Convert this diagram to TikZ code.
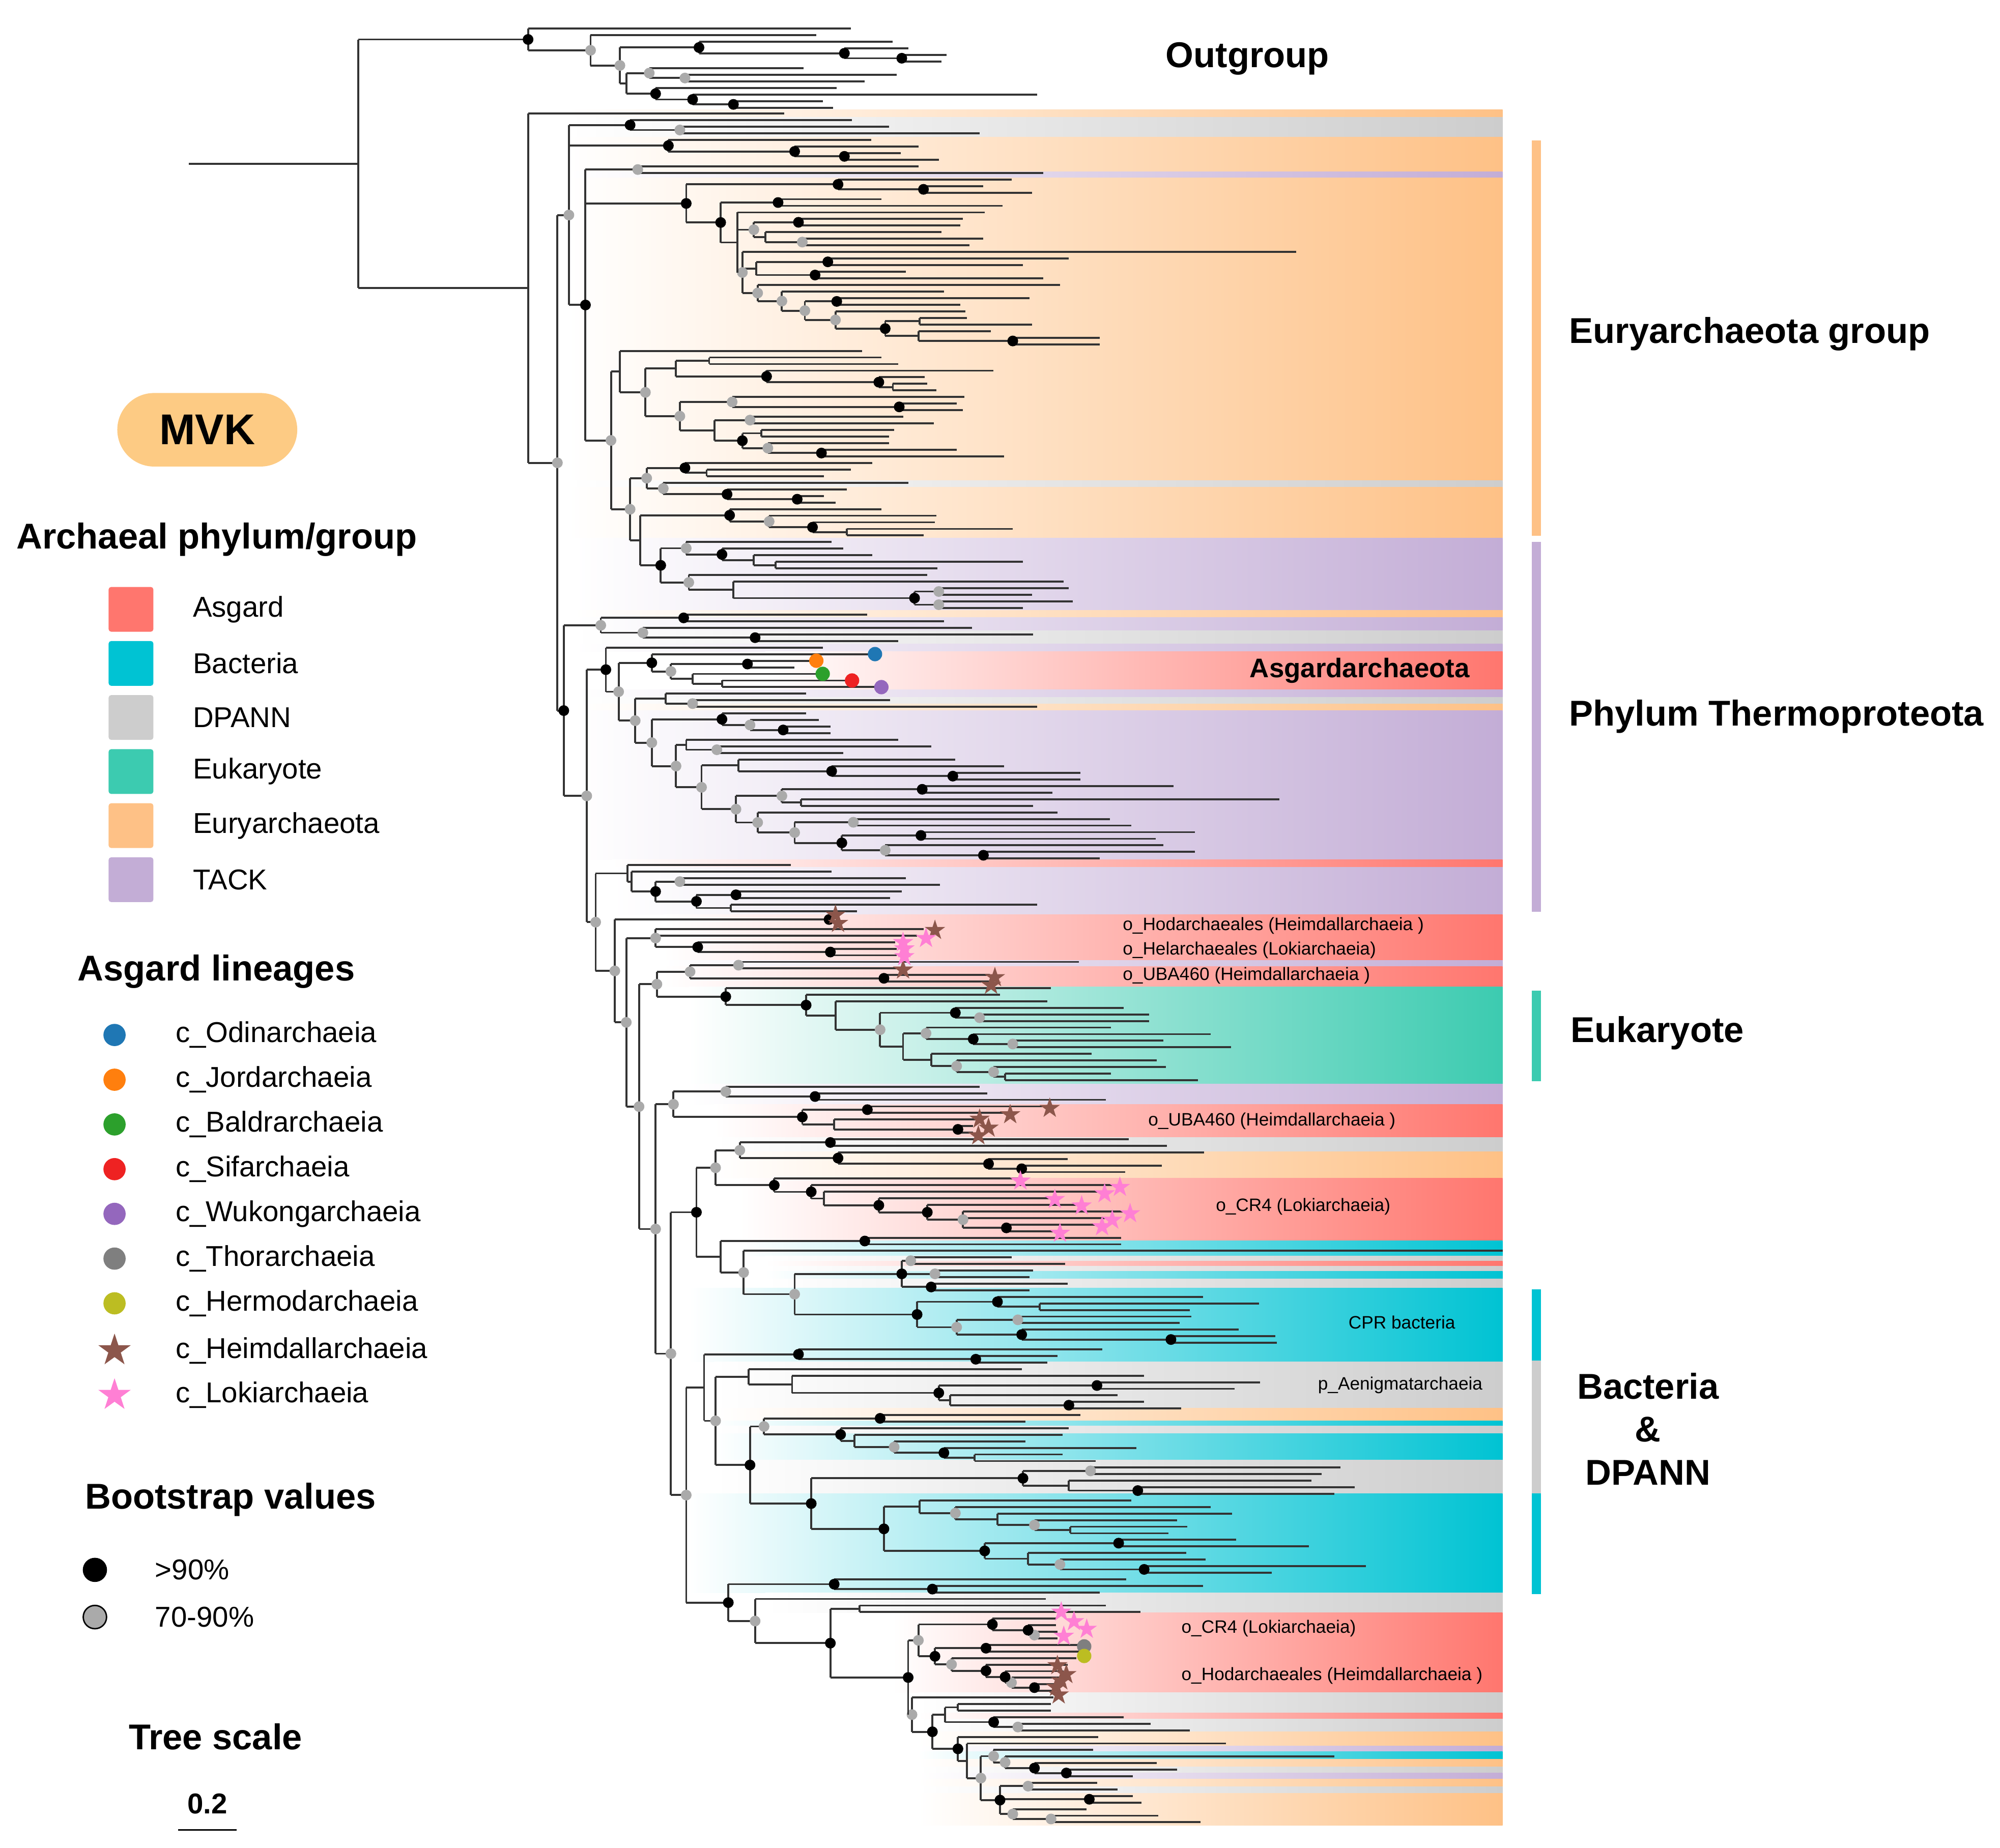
\documentclass[tikz,border=0pt]{standalone}
\usepackage{fontspec}
\setmainfont{Liberation Sans}
\usetikzlibrary{shapes.geometric,shapes.misc}

\definecolor{asg}{HTML}{FF766E}
\definecolor{bac}{HTML}{00C3D3}
\definecolor{dpa}{HTML}{CDCDCD}
\definecolor{euk}{HTML}{3CCBB0}
\definecolor{eur}{HTML}{FEC186}
\definecolor{tac}{HTML}{C3ADD6}
\definecolor{mvk}{HTML}{FDCB84}
\definecolor{odin}{HTML}{1F77B4}
\definecolor{jord}{HTML}{FF7F0E}
\definecolor{bald}{HTML}{2CA02C}
\definecolor{sif}{HTML}{EE2222}
\definecolor{wuk}{HTML}{9467BD}
\definecolor{thor}{HTML}{7F7F7F}
\definecolor{herm}{HTML}{BCBD22}
\definecolor{heim}{HTML}{8C564B}
\definecolor{loki}{HTML}{FF7FD4}
\definecolor{bsgray}{HTML}{AAAAAA}

% tree macros: \Lf{tip x} leaf, \Op{x}{dot} opens a clade, \Cl closes it
\newcount\tdepth
\def\tlsep{5.17}
\def\tycur{22.4}
\let\tcmin\relax
\let\tcmax\relax
\newcommand\upd[1]{\ifx\tcmin\relax\edef\tcmin{#1}\fi\edef\tcmax{#1}}
\newcommand\Yset[2]{\gdef\tycur{#1}\gdef\tlsep{#2}}
\newcommand\Lf[1]{%
  \draw[branch] (\tpx,\tycur) -- (#1,\tycur);
  \upd{\tycur}%
  \pgfmathsetmacro\tynext{\tycur+\tlsep}%
  \global\let\tycur\tynext}
\newcommand\Op[2]{%
  \begingroup
  \global\advance\tdepth by 1
  \let\tppx\tpx\def\tpx{#1}%
  \tikzset{tcdot/.style={bs#2}}%
  \let\tcmin\relax\let\tcmax\relax}
\newcommand\Clreal{%
  \pgfmathsetmacro\tcmid{(\tcmin+\tcmax)/2}%
  \draw[branch] (\tpx,\tcmin) -- (\tpx,\tcmax) (\tppx,\tcmid) -- (\tpx,\tcmid);
  \path[tcdot] (\tpx,\tcmid) circle[radius=4.2];
  \global\let\tcret\tcmid
  \global\advance\tdepth by -1
  \endgroup
  \upd{\tcret}}
\newcommand\Cl{\ifnum\tdepth>0 \expandafter\Clreal\fi}
\newcommand\Ch[4]{\Op{#1}{#2}\Lf{#3}\Lf{#4}\Cl}

\begin{document}
\begin{tikzpicture}[x=0.025cm, y=-0.025cm,
    branch/.style={line width=1.1pt, draw=black!80},
    bsb/.style={fill=black}, bsg/.style={fill=bsgray}, bsn/.style={},
    headtext/.style={font=\fontsize{20}{24}\selectfont\bfseries, inner sep=0pt},
    legtext/.style={font=\fontsize{16}{19}\selectfont, inner sep=0pt, anchor=west},
    cladelab/.style={font=\fontsize{10}{12}\selectfont, inner sep=0pt, anchor=west},
    sq/.style={rounded corners=1.5pt, minimum size=25pt, inner sep=0pt},
    ldot/.style={circle, inner sep=0pt, minimum size=12.4pt},
    lstar/.style={star, star points=5, star point ratio=2.6, inner sep=0pt, minimum size=19pt, fill=#1},
    tstar/.style={star, star points=5, star point ratio=2.6, inner sep=0pt, minimum size=12pt, fill=#1},
    cdot/.style={circle, inner sep=0pt, minimum size=8pt, fill=#1}
]
\useasboundingbox (0,0) rectangle (1568,1449);

% Coloured bands
\foreach \xa/\ya/\yb/\c in {445/86/92/eur, 445/92/107.5/dpa, 445/107.5/134.5/eur, 445/134.5/139.5/tac,
    445/139.5/377/eur, 445/377/382/dpa, 445/382/422/eur, 450/422/478.5/tac, 450/478.5/484/eur,
    450/484/494.7/tac, 450/494.7/505/dpa, 450/505/511/tac, 600/511/541/asg, 450/541/546.7/tac,
    450/546.7/552/dpa, 450/552/557/eur, 450/557/674/tac, 480/674/680/asg, 480/680/717/tac,
    520/717/753/asg, 520/753/758/tac, 520/758/774/asg, 540/774/850/euk, 540/850/866/tac,
    560/866/892/asg, 560/892/903/dpa, 560/903/924/eur, 580/924/973/asg, 580/973/985/bac,
    600/985/989/dpa, 600/989/993/asg, 600/993/997/dpa, 600/997/1003/bac, 600/1003/1010/dpa,
    540/1010/1068/bac, 560/1068/1104/dpa, 560/1104/1114/eur, 560/1114/1118/bac, 560/1118/1124/dpa,
    560/1124/1145/bac, 560/1145/1171/dpa, 540/1171/1249/bac, 600/1249/1264.7/dpa, 700/1264.7/1327/asg,
    720/1327/1343/dpa, 720/1343/1348/asg, 720/1348/1358/dpa, 720/1358/1369/eur, 720/1369/1373.5/tac,
    720/1373.5/1379.5/bac, 720/1379.5/1385.6/eur, 720/1385.6/1390.3/dpa, 720/1390.3/1395/tac,
    720/1395/1401/eur, 720/1401/1406/dpa, 720/1406/1431.5/eur}
  \shade[left color=white, right color=\c] (\xa,\ya) rectangle (1178,\yb);

% Group bars
\fill[eur] (1201,110) rectangle (1208,420);
\fill[tac] (1201,425) rectangle (1208,715);
\fill[euk] (1201,777) rectangle (1208,848);
\fill[bac] (1201,1011) rectangle (1208,1067);
\fill[dpa] (1201,1067) rectangle (1208,1171);
\fill[bac] (1201,1171) rectangle (1208,1250);

% Tree
\def\tpx{148}
\Op{281}{n}
% Outgroup
\Op{414}{b}\Lf{667}
 \Op{463}{g}\Lf{640}
  \Op{486}{g}
   \Op{548}{b}\Lf{700}\Op{662}{b}\Lf{712}\Ch{707}{b}{742}{738}\Cl\Cl
   \Op{491}{n}
    \Op{509}{g}\Lf{630}\Ch{537}{g}{703}{678}\Cl
    \Op{514}{b}\Lf{656}\Op{543}{b}\Lf{813}\Ch{575}{b}{645}{653}\Cl\Cl
   \Cl
  \Cl
 \Cl
\Cl
\Yset{89}{5.17}
% Ingroup
\Op{414}{n}\Lf{615}
 \Op{437}{g}
  \Op{446}{g}
   \Op{494}{b}\Lf{668}\Ch{533}{g}{697}{768}\Cl
   \Op{524}{b}\Lf{683}\Op{623}{b}\Lf{720}\Ch{662}{b}{706}{736}\Cl\Cl
   \Op{459}{b}
    \Ch{500}{g}{720}{818}
    \Op{538}{b}
     \Op{657}{b}\Lf{793}\Ch{724}{b}{771}{809}\Cl
     \Op{565}{b}
      \Ch{610}{b}{691}{786}
      \Op{578}{n}\Lf{772}
       \Op{591}{g}\Ch{626}{b}{755}{753}\Op{600}{n}\Lf{738}\Ch{629}{g}{771}{760}\Cl\Cl
       \Op{582}{g}\Lf{1016}
        \Op{593}{n}\Ch{649}{b}{838}{802}\Ch{639}{b}{710}{818}\Cl
        \Op{594}{g}\Lf{831}\Op{613}{g}\Lf{740}\Op{631}{g}\Ch{656}{b}{807}{753}\Op{655}{g}\Lf{757}\Op{694}{b}\Ch{721}{n}{758}{809}\Op{720}{n}\Lf{777}\Ch{794}{b}{862}{862}\Cl\Cl\Cl\Cl\Cl\Cl
       \Cl
      \Cl
     \Cl
    \Cl
    \Op{479}{g}
     \Op{486}{n}\Lf{676}
      \Op{506}{g}
       \Op{530}{n}\Ch{556}{n}{691}{704}\Op{601}{b}\Lf{779}\Op{689}{b}\Lf{725}\Ch{700}{n}{727}{734}\Cl\Cl\Cl
       \Op{533}{g}\Op{574}{g}\Lf{756}\Ch{705}{b}{750}{755}\Cl\Op{560}{n}\Ch{588}{g}{708}{732}\Op{582}{b}\Ch{597}{n}{701}{697}\Op{602}{g}\Lf{697}\Ch{644}{b}{750}{787}\Cl\Cl\Cl\Cl
      \Cl
     \Cl
     \Op{494}{g}
      \Op{507}{g}\Op{537}{b}\Lf{684}\Ch{554}{n}{667}{646}\Cl\Op{520}{g}\Lf{712}\Op{570}{b}\Lf{664}\Ch{625}{b}{646}{655}\Cl\Cl\Cl
      \Op{502}{n}
       \Op{572}{b}\Lf{691}\Op{603}{g}\Lf{734}\Op{637}{b}\Lf{733}\Ch{664}{n}{794}{724}\Cl\Cl\Cl
       % TACK
       \Op{518}{b}
        \Op{538}{g}\Lf{652}\Op{566}{b}\Lf{661}\Op{591}{n}\Lf{684}\Ch{608}{n}{802}{735}\Cl\Cl\Cl
        \Op{540}{g}\Lf{727}\Op{575}{n}\Lf{834}\Op{717}{b}\Ch{736}{g}{838}{809}\Ch{736}{g}{841}{802}\Cl\Cl\Cl
       \Cl
      \Cl
     \Cl
    \Cl
   \Cl
  \Cl
  % N3
  \Op{442}{b}
   \Op{471}{g}\Ch{536}{b}{680}{740}\Op{504}{g}\Lf{762}\Ch{592}{b}{810}{704}\Cl\Cl
   \Op{460}{g}
    \Op{475}{b}\Lf{645}
     \Op{485}{g}
      % Asgardarchaeota
      \Op{511}{b}\Lf{686}\Op{526}{g}\Ch{586}{b}{640}{623}\Op{543}{n}\Lf{645}\Ch{566}{n}{668}{691}\Cl\Cl\Cl
      \Op{498}{g}
       \Op{522}{n}\Lf{632}\Ch{543}{g}{698}{813}\Cl
       \Op{511}{g}
        \Op{566}{b}\Lf{632}\Op{588}{g}\Lf{642}\Ch{614}{b}{651}{651}\Cl\Cl
        \Op{530}{g}
         \Op{538}{n}\Lf{704}\Ch{562}{g}{730}{661}\Cl
         \Op{550}{g}
          \Op{579}{n}\Lf{749}\Op{652}{b}\Lf{787}\Ch{747}{b}{847}{847}\Cl\Cl
          \Op{577}{g}
           \Op{613}{g}\Ch{723}{b}{920}{825}\Ch{628}{n}{1003}{810}\Cl
           \Op{594}{g}\Lf{829}\Op{623}{g}\Ch{669}{g}{870}{887}\Op{660}{b}\Ch{722}{b}{937}{906}\Op{694}{g}\Lf{912}\Ch{771}{b}{937}{862}\Cl\Cl\Cl\Cl
          \Cl
         \Cl
        \Cl
       \Cl
      \Cl
     \Cl
    \Cl
    \Op{467}{g}
     \Op{492}{n}\Lf{620}\Op{495}{n}\Lf{652}\Op{514}{b}\Ch{533}{g}{710}{737}\Op{546}{b}\Ch{577}{b}{707}{698}\Ch{573}{n}{813}{672}\Cl\Cl\Cl\Cl
     \Op{482}{g}\Yset{721}{5.17}\Lf{650}
      \Op{491}{g}\Yset{728.5}{5.15}
       \Op{514}{g}\Lf{724}\Lf{719}\Op{547}{b}\Lf{702}\Ch{651}{b}{703}{703}\Cl\Cl
       \Op{501}{g}
        \Op{515}{g}
         \Op{541}{g}\Ch{579}{g}{846}{707}\Ch{693}{b}{776}{776}\Cl
         % Eukaryote
         \Op{569}{b}\Lf{824}\Op{632}{b}\Lf{784}\Op{655}{n}\Lf{821}\Op{690}{g}
          \Op{749}{b}\Lf{881}\Ch{768}{g}{901}{901}\Cl
          \Op{708}{n}\Op{726}{g}\Lf{871}\Op{763}{b}\Lf{949}\Ch{794}{g}{912}{965}\Cl\Cl\Op{730}{n}\Lf{856}\Op{750}{g}\Lf{907}\Op{779}{g}\Lf{914}\Ch{788}{n}{871}{939}\Cl\Cl\Cl\Cl
         \Cl\Cl\Cl\Cl
        \Cl
        \Op{514}{g}
         \Op{528}{g}\Op{569}{g}\Lf{768}\Ch{639}{b}{774}{867}\Cl\Op{629}{b}\Ch{680}{b}{823}{792}\Op{654}{n}\Lf{769}\Ch{751}{b}{763}{763}\Cl\Cl\Cl
         \Op{526}{g}
          \Op{546}{b}
           \Op{561}{g}
            \Op{580}{g}\Ch{651}{b}{885}{915}\Op{657}{b}\Lf{944}\Op{775}{b}\Lf{837}\Ch{801}{b}{911}{882}\Cl\Cl\Cl
            % CR4
            \Op{607}{b}\Lf{800}\Op{636}{b}\Lf{878}\Op{646}{n}\Lf{865}\Op{689}{b}\Lf{827}\Op{727}{b}\Lf{848}\Op{755}{g}\Lf{885}\Lf{872}\Ch{789}{b}{864}{831}\Cl\Cl\Cl\Cl\Cl\Cl
           \Cl
           \Op{565}{n}
            \Ch{678}{b}{879}{879}
            \Op{583}{g}\Lf{1178}
             \Op{623}{g}
              \Op{707}{b}\Ch{714}{g}{793}{835}\Ch{733}{g}{810}{807}\Ch{730}{b}{837}{807}\Cl
              % CPR bacteria
              \Op{719}{b}\Op{782}{b}\Lf{943}\Ch{815}{n}{987}{933}\Cl\Op{750}{g}\Ch{798}{g}{934}{925}\Op{801}{b}\Lf{971}\Ch{918}{b}{1000}{1001}\Cl\Cl\Cl
             \Cl
            \Cl
           \Cl
          \Cl
          \Op{538}{g}
           \Op{552}{n}
            \Op{626}{b}\Lf{864}\Ch{765}{b}{829}{821}\Cl
            \Op{561}{g}
             \Op{587}{n}\Lf{801}\Op{621}{n}\Lf{897}\Op{736}{b}\Ch{860}{b}{988}{968}\Op{745}{n}\Lf{876}\Ch{838}{b}{897}{926}\Cl\Cl\Cl\Cl
             \Op{588}{b}
              \Op{599}{g}\Ch{690}{b}{847}{804}\Op{659}{b}\Lf{838}\Op{670}{n}\Lf{833}\Op{701}{g}\Lf{804}\Op{740}{b}\Lf{891}\Ch{764}{n}{833}{859}\Cl\Cl\Cl\Cl\Cl
              \Op{636}{b}
               \Op{802}{b}\Ch{855}{g}{1051}{1036}\Op{838}{n}\Lf{1028}\Ch{892}{b}{1062}{1046}\Cl\Cl
               \Op{693}{b}
                \Op{721}{n}\Lf{887}\Op{749}{g}\Lf{949}\Op{782}{n}\Lf{966}\Op{811}{g}\Lf{923}\Ch{839}{n}{931}{916}\Cl\Cl\Cl\Cl
                \Op{772}{b}\Ch{877}{b}{969}{1026}\Op{806}{n}\Lf{930}\Op{831}{g}\Lf{945}\Ch{897}{b}{1071}{997}\Cl\Cl\Cl
               \Cl
              \Cl
             \Cl
            \Cl
           \Cl
           \Op{571}{b}
            \Op{654}{b}\Lf{883}\Ch{731}{b}{943}{862}\Cl
            \Op{592}{g}\Lf{820}
             \Op{651}{b}
              \Ch{674}{n}{867}{894}
              \Op{712}{b}
               \Op{720}{g}\Op{778}{b}\Lf{828}\Op{806}{b}\Lf{828}\Ch{811}{g}{829}{829}\Cl\Cl\Op{733}{b}\Ch{773}{b}{849}{849}\Op{746}{g}\Lf{844}\Op{773}{b}\Lf{837}\Op{788}{b}\Lf{834}\Op{793}{g}\Lf{831}\Ch{811}{b}{832}{826}\Cl\Cl\Cl\Cl\Cl\Cl
               \Op{715}{g}\Lf{826}
                \Op{731}{b}
                 \Op{741}{n}\Ch{751}{n}{824}{824}\Op{779}{b}\Lf{881}\Ch{798}{g}{902}{933}\Cl\Cl
                 \Op{751}{b}\Lf{861}\Op{758}{n}\Lf{961}\Op{769}{g}
                  \Op{779}{g}\Lf{857}\Op{788}{g}\Lf{1046}\Op{811}{b}\Lf{907}\Ch{836}{b}{923}{888}\Cl\Cl\Cl
                  \Op{784}{b}\Ch{806}{g}{860}{876}\Ch{854}{b}{888}{895}\Op{794}{g}\Lf{852}\Ch{824}{g}{908}{941}\Cl\Cl
                 \Cl\Cl\Cl
                \Cl
               \Cl
              \Cl
             \Cl
            \Cl
           \Cl
          \Cl
         \Cl
        \Cl
       \Cl
      \Cl
     \Cl
    \Cl
   \Cl
  \Cl
 \Cl
\Cl
\Cl

% Lineage markers
\path[bsb] (650,721) circle[radius=4.2];
\foreach \c/\x/\y [count=\i] in {odin/686/512.9, jord/640/518.1, bald/645/528.4, sif/668/533.6,
    wuk/691/538.8, thor/850/1291, herm/850/1298.5}
  \node[cdot=\c] (cm\i) at (\x,\y) {};
\foreach \x/\y [count=\i] in {655/717.5, 657/724, 733/729.5, 708/760.5, 780/766.5, 777/772.5,
    823/869, 792/874, 768/877.5, 775/884.5, 767/890.5, 829/1306, 836/1313, 832/1318, 828/1323, 830/1329}
  \node[tstar=heim] (hs\i) at (\x,\y) {};
\foreach \x/\y [count=\i] in {726/735.8, 708/739, 709/744, 709/750, 800/926, 878/931, 866/936,
    827/940.5, 848/945.5, 886/951.6, 872/956.7, 864/961.8, 831/967, 832/1264, 842/1271.5, 852/1277.5, 834/1283}
  \node[tstar=loki] (ls\i) at (\x,\y) {};

% Group labels
\node[headtext] (outg) at (978,46) {Outgroup};
\node[headtext, anchor=west] (eury) at (1230,262) {Euryarchaeota group};
\node[headtext, anchor=west] (thermo) at (1230,562) {Phylum Thermoproteota};
\node[headtext, anchor=west] (eukl) at (1231,810) {Eukaryote};
\node[headtext, align=center] (bacd) at (1292,1120.5) {Bacteria\\\&\\DPANN};
\node[font=\fontsize{15}{18}\selectfont\bfseries, inner sep=0pt] (asgl) at (1066,526) {Asgardarchaeota};

% Clade labels
\node[cladelab] (hod1) at (880,726) {o\_Hodarchaeales (Heimdallarchaeia )};
\node[cladelab] (hel) at (880,745) {o\_Helarchaeales (Lokiarchaeia)};
\node[cladelab] (uba1) at (880,765) {o\_UBA460 (Heimdallarchaeia )};
\node[cladelab] (uba2) at (900,879) {o\_UBA460 (Heimdallarchaeia )};
\node[cladelab] (cr1) at (953,946) {o\_CR4 (Lokiarchaeia)};
\node[cladelab] (cpr) at (1057,1037) {CPR bacteria};
\node[cladelab] (aen) at (1033,1086) {p\_Aenigmatarchaeia};
\node[cladelab] (cr2) at (926,1277) {o\_CR4 (Lokiarchaeia)};
\node[cladelab] (hod2) at (926,1314) {o\_Hodarchaeales (Heimdallarchaeia )};

% Legend
\node[rounded rectangle, fill=mvk, minimum width=107pt, minimum height=41pt,
    font=\fontsize{24}{28}\selectfont\bfseries] (mvkb) at (162.5,337) {MVK};
\node[headtext, anchor=west] (phyh) at (12.6,423) {Archaeal phylum/group};
\foreach \c/\t [count=\i] in {asg/Asgard, bac/Bacteria, dpa/DPANN, euk/Eukaryote, eur/Euryarchaeota, tac/TACK} {
  \node[sq, fill=\c] (sq\i) at (102.7,435.4+42.4*\i) {};
  \node[legtext] (sl\i) at (151,435.4+42.4*\i) {\t};
}
\node[headtext, anchor=west] (asgh) at (60.7,762) {Asgard lineages};
\foreach \c/\t [count=\i] in {odin/Odinarchaeia, jord/Jordarchaeia, bald/Baldrarchaeia, sif/Sifarchaeia,
    wuk/Wukongarchaeia, thor/Thorarchaeia, herm/Hermodarchaeia} {
  \node[ldot, fill=\c] (ld\i) at (89.8,776.5+35.07*\i) {};
  \node[legtext] (ll\i) at (137.4,776.5+35.07*\i) {c\_\t};
}
\node[lstar=heim] (ld8) at (89.8,1059) {};
\node[legtext] (ll8) at (137.4,1059) {c\_Heimdallarchaeia};
\node[lstar=loki] (ld9) at (89.8,1094) {};
\node[legtext] (ll9) at (137.4,1094) {c\_Lokiarchaeia};

\node[headtext, anchor=west] (bsh) at (66.4,1176) {Bootstrap values};
\node[circle, fill=black, inner sep=0pt, minimum size=13.5pt] (bs1) at (74.4,1231) {};
\node[legtext] (bl1) at (121.4,1231) {>90\%};
\node[circle, fill=bsgray, draw=black, line width=0.8pt, inner sep=0pt, minimum size=13pt] (bs2) at (74.4,1268) {};
\node[legtext] (bl2) at (121.4,1268) {70-90\%};

\node[headtext] (tsc) at (169,1362) {Tree scale};
\node[font=\fontsize{16}{19}\selectfont\bfseries, inner sep=0pt] (tsv) at (162.6,1414.6) {0.2};
\coordinate (sb1) at (139.7,1435);
\coordinate (sb2) at (185.5,1435);
\draw[line width=1pt] (sb1) -- (sb2);
\end{tikzpicture}
\end{document}
